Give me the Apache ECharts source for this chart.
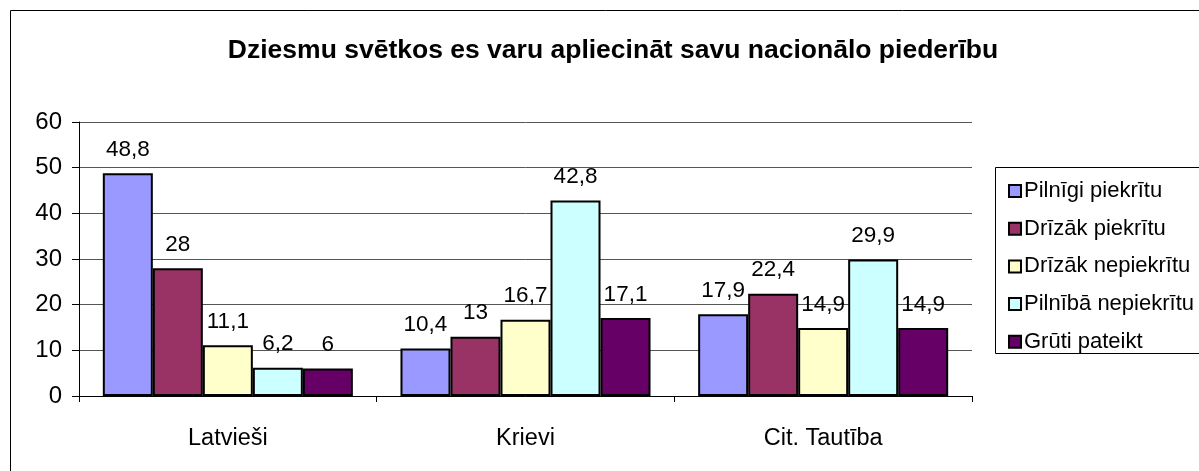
<!DOCTYPE html>
<html>
<head>
<meta charset="utf-8">
<script src="https://cdn.jsdelivr.net/npm/echarts@6/dist/echarts.min.js"></script>
<style>
  html, body { margin: 0; padding: 0; background: #fff; }
  #chart { width: 1199px; height: 471px; }
</style>
</head>
<body>
<div id="chart"></div>
<script>
const categories = ['Latvieši', 'Krievi', 'Cit. Tautība']
const seriesNames = ['Pilnīgi piekrītu', 'Drīzāk piekrītu', 'Drīzāk nepiekrītu', 'Pilnībā nepiekrītu', 'Grūti pateikt']
const pilnigiPiekritu = [48.8, 10.4, 17.9]
const drizakPiekritu = [28, 13, 22.4]
const drizakNepiekritu = [11.1, 16.7, 14.9]
const pilnibaNepiekritu = [6.2, 42.8, 29.9]
const gruti = [6, 17.1, 14.9]
const colors = ['#9999FF', '#993366', '#FFFFCC', '#CCFFFF', '#660066']

const values = [pilnigiPiekritu, drizakPiekritu, drizakNepiekritu, pilnibaNepiekritu, gruti]
const font = 'Liberation Sans, Arial, sans-serif'

let chart = echarts.init(document.getElementById('chart'))

const option = {
  animation: false,
  title: {
    text: 'Dziesmu svētkos es varu apliecināt savu nacionālo piederību',
    left: 608,
    textAlign: 'center',
    top: 32,
    textStyle: { fontFamily: font, fontSize: 26.5, fontWeight: 'bold', color: '#000' }
  },
  graphic: [
    {
      type: 'rect',
      shape: { x: 10.5, y: 10.5, width: 1200, height: 470 },
      style: { fill: 'none', stroke: '#000', lineWidth: 1 },
      silent: true
    },
    {
      type: 'rect',
      shape: { x: 995.5, y: 167.5, width: 210, height: 186 },
      style: { fill: '#fff', stroke: '#000', lineWidth: 1 },
      silent: true,
      z: 1
    }
  ],
  legend: {
    orient: 'vertical',
    left: 1003,
    top: 174,
    itemWidth: 12,
    itemHeight: 12,
    itemGap: 13.7,
    icon: 'rect',
    z: 5,
    itemStyle: { borderColor: '#000', borderWidth: 2 },
    textStyle: { fontFamily: font, fontSize: 22, color: '#000', padding: [0, 0, 0, -2], lineHeight: 24 },
    data: seriesNames
  },
  grid: { left: 79, right: 227, top: 122, bottom: 75 },
  xAxis: {
    type: 'category',
    data: categories,
    axisLine: { lineStyle: { color: '#000', width: 1 } },
    axisTick: { show: true, length: 6, lineStyle: { color: '#000' } },
    axisLabel: { fontFamily: font, fontSize: 23.5, color: '#000', margin: 31 }
  },
  yAxis: {
    type: 'value',
    min: 0,
    max: 60,
    interval: 10,
    axisLine: { show: true, lineStyle: { color: '#000', width: 1 } },
    axisTick: { show: true, length: 7, lineStyle: { color: '#000' } },
    axisLabel: { fontFamily: font, fontSize: 24, color: '#000', margin: 17 },
    splitLine: { lineStyle: { color: '#555', width: 1 } }
  },
  series: seriesNames.map((name, i) => ({
    name: name,
    type: 'bar',
    data: values[i],
    barGap: '0%',
    barCategoryGap: '16%',
    itemStyle: { color: colors[i], borderColor: '#000', borderWidth: 2 },
    label: {
      show: true,
      position: 'top',
      distance: 12,
      fontFamily: font,
      fontSize: 22.5,
      color: '#000',
      formatter(p) {
        return String(p.value).replace('.', ',')
      }
    }
  }))
}

chart.setOption(option)
</script>
</body>
</html>
